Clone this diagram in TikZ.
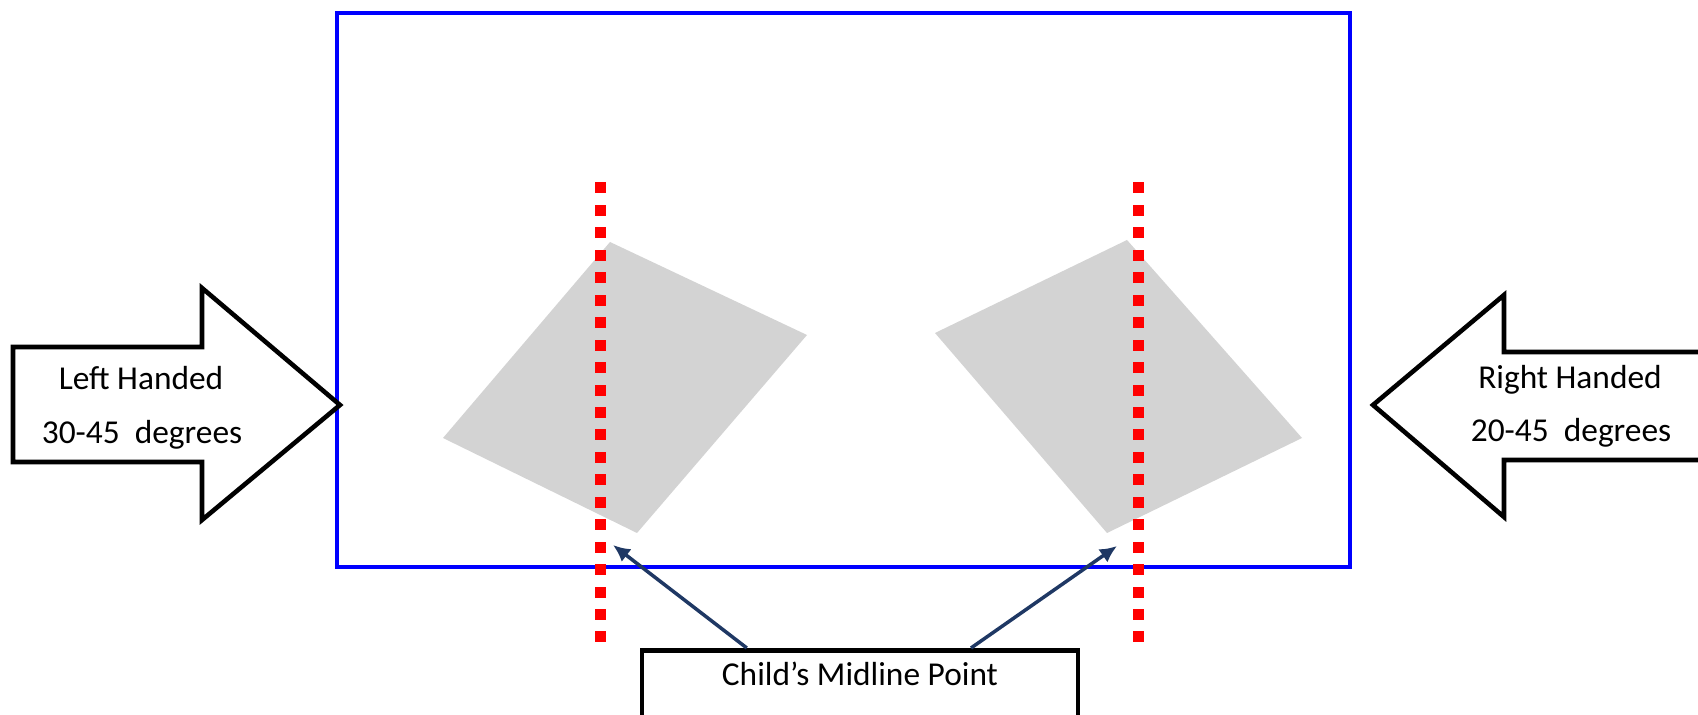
\documentclass[tikz,border=0pt]{standalone}
\usepackage{fontspec}
\setmainfont{Carlito}
\usepackage{xcolor}
\usetikzlibrary{arrows.meta,calc,positioning}
\definecolor{cardgray}{HTML}{D3D3D3}
\definecolor{navy}{HTML}{1F3864}

\begin{document}
\begin{tikzpicture}[x=0.02cm,y=-0.02cm,font=\fontsize{19pt}{22pt}\selectfont]
            \useasboundingbox (0,0) rectangle (1698,715);
            \draw[blue,line width=2.4pt](337,13)rectangle(1350,567);
            \fill[cardgray](610,242)--(807,335)--(637,533)--(443,438)--cycle;
            \fill[cardgray](1127,240)--(1302,438)--(1107,533)--(935,333)--cycle;
            \foreach \u in {0,...,20}{
                    \fill[red](594.5,182.5+22.45*\u)rectangle(605.5,193.5+22.45*\u);
                    \fill[red](1132.5,182.5+22.45*\u)rectangle(1143.5,193.5+22.45*\u);}
            \draw[line width=2.6pt,fill=white](13,347)--(202,347)--(202,288)--(340,405)--(202,520)--(202,462)--(13,462)--cycle;
            \draw[line width=2.6pt,fill=white](1720,352)--(1504,352)--(1504,295)--(1373,405)--(1504,517)--(1504,460)--(1720,460)--cycle;
            \node (lefthand) at (141,378) {Left Handed};
            \node (leftdeg) at (142,435) {30-45\ \ degrees};
            \node (righthand) at (1570,380) {Right Handed};
            \node (rightdeg) at (1571,433) {20-45\ \ degrees};
            \node[draw,line width=2.6pt,minimum width=8.72cm,minimum height=2cm,anchor=north] (midbox) at (860,648) {};
            \node (midtext) at ($(midbox.north)+(0,26)$) {Child’s Midline Point};
            \coordinate (lhead) at (613,545);
            \coordinate (rhead) at (1117,546);
            \draw[navy,line width=2pt,-{Latex[length=0.34cm,width=0.32cm]}]($(midbox.north west)!0.243!(midbox.north east)$)--(lhead);
            \draw[navy,line width=2pt,-{Latex[length=0.34cm,width=0.32cm]}]($(midbox.north west)!0.752!(midbox.north east)$)--(rhead);
        \end{tikzpicture}
\end{document}
